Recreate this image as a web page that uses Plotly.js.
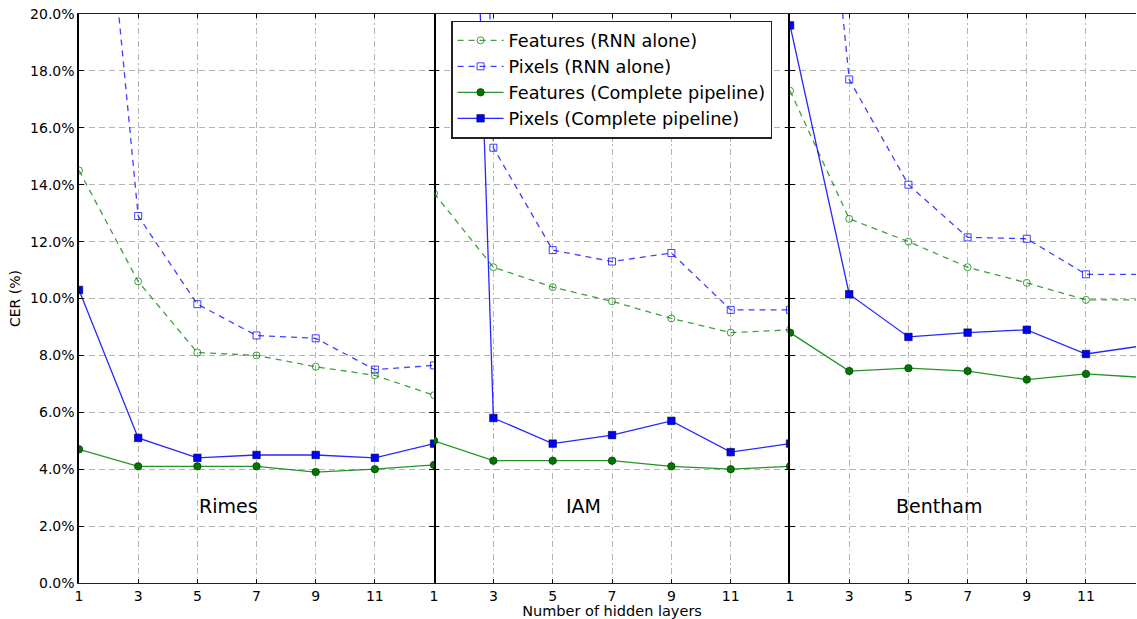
<!DOCTYPE html>
<html>
<head>
<meta charset="utf-8">
<script src="https://cdn.plot.ly/plotly-3.0.1.min.js"></script>
<style>html,body{margin:0;padding:0;background:#fff;}#chart{width:1137px;height:619px;}</style>
</head>
<body>
<div id="chart"></div>
<script>
// ---- data ----
const layers = [1, 3, 5, 7, 9, 11, 13];
const panelNames = ['Rimes', 'IAM', 'Bentham'];
const seriesNames = ['Features (RNN alone)', 'Pixels (RNN alone)', 'Features (Complete pipeline)', 'Pixels (Complete pipeline)'];
const xTickVals = [1, 3, 5, 7, 9, 11];
const xTickText = ['1', '3', '5', '7', '9', '11'];
const yTickVals = [0, 2, 4, 6, 8, 10, 12, 14, 16, 18, 20];
const yTickText = ['0.0%', '2.0%', '4.0%', '6.0%', '8.0%', '10.0%', '12.0%', '14.0%', '16.0%', '18.0%', '20.0%'];

const rimesFeatRnn  = [14.5, 10.6, 8.1, 8.0, 7.6, 7.3, 6.6];
const rimesPixRnn   = [34.5, 12.9, 9.8, 8.7, 8.6, 7.5, 7.65];
const rimesFeatFull = [4.7, 4.1, 4.1, 4.1, 3.9, 4.0, 4.15];
const rimesPixFull  = [10.3, 5.1, 4.4, 4.5, 4.5, 4.4, 4.9];

const iamFeatRnn  = [13.7, 11.1, 10.4, 9.9, 9.3, 8.8, 8.9];
const iamPixRnn   = [95, 15.3, 11.7, 11.3, 11.6, 9.6, 9.6];
const iamFeatFull = [5.0, 4.3, 4.3, 4.3, 4.1, 4.0, 4.1];
const iamPixFull  = [70, 5.8, 4.9, 5.2, 5.7, 4.6, 4.9];

const benthamFeatRnn  = [17.3, 12.8, 12.0, 11.1, 10.55, 9.95, 9.95];
const benthamPixRnn   = [38.5, 17.7, 14.0, 12.15, 12.1, 10.85, 10.85];
const benthamFeatFull = [8.8, 7.45, 7.55, 7.45, 7.15, 7.35, 7.22];
const benthamPixFull  = [19.6, 10.15, 8.65, 8.8, 8.9, 8.05, 8.35];

const panelData = [
  [rimesFeatRnn, rimesPixRnn, rimesFeatFull, rimesPixFull],
  [iamFeatRnn, iamPixRnn, iamFeatFull, iamPixFull],
  [benthamFeatRnn, benthamPixRnn, benthamFeatFull, benthamPixFull]
];

// ---- styles ----
const styles = [
  {line: {color: 'rgba(0,128,0,0.75)', width: 1.3, dash: '6px,5px'},
   marker: {symbol: 'circle-open', size: 7, color: 'rgba(0,128,0,0.75)', line: {width: 1}}},
  {line: {color: 'rgba(0,0,255,0.75)', width: 1.3, dash: '6px,5px'},
   marker: {symbol: 'square-open', size: 7, color: 'rgba(0,0,255,0.75)', line: {width: 1}}},
  {line: {color: 'rgba(0,128,0,0.85)', width: 1.3},
   marker: {symbol: 'circle', size: 7.5, color: '#007800', line: {width: 0.6, color: '#003000'}}},
  {line: {color: 'rgba(0,0,255,0.85)', width: 1.3},
   marker: {symbol: 'square', size: 7.5, color: '#0000ff', line: {width: 0.6, color: '#000040'}}}
];

const xNames = ['x', 'x2', 'x3'];
const yNames = ['y', 'y2', 'y3'];
const traces = [];
for (let s = 0; s < 4; s++) {
  for (let p = 0; p < 3; p++) {
    traces.push({
      type: 'scatter', mode: 'lines+markers',
      x: layers, y: panelData[p][s],
      xaxis: xNames[p], yaxis: yNames[p],
      name: seriesNames[s], legendgroup: 'g' + s,
      showlegend: p === 0,
      line: styles[s].line, marker: styles[s].marker,
      cliponaxis: true, hoverinfo: 'skip'
    });
  }
}

const fontFam = 'DejaVu Sans, Liberation Sans, sans-serif';
const domains = [[0, 0.3359], [0.3359, 0.6727], [0.6727, 1]];
const xRanges = [[1, 13], [1, 13], [1, 12.69]];

function xAxis(i) {
  return {
    domain: domains[i], range: xRanges[i], anchor: yNames[i],
    tickmode: 'array', tickvals: xTickVals, ticktext: xTickText,
    ticks: 'inside', ticklen: 4, tickcolor: '#000', tickwidth: 1,
    showline: true, linecolor: '#222', linewidth: 1.3, mirror: 'ticks',
    showgrid: true, gridcolor: '#b4b4b4', gridwidth: 1, griddash: '6px,3px,1.5px,3px',
    zeroline: false, tickfont: {size: 14, color: '#000', family: fontFam}
  };
}
function yAxis(i) {
  return {
    domain: [0, 1], range: [0, 20], anchor: xNames[i],
    tickmode: 'array', tickvals: yTickVals, ticktext: yTickText,
    showticklabels: i === 0,
    ticks: 'inside', ticklen: 5, tickcolor: '#000', tickwidth: 1,
    showline: i !== 1, linecolor: '#000', linewidth: 1.6,
    mirror: i < 2 ? 'ticks' : false,
    showgrid: true, gridcolor: '#b4b4b4', gridwidth: 1, griddash: '6px,4px',
    zeroline: false, tickfont: {size: 14, color: '#000', family: fontFam}
  };
}

const layout = {
  width: 1137, height: 619,
  margin: {l: 79, r: 1, t: 14, b: 36},
  paper_bgcolor: '#fff', plot_bgcolor: '#fff',
  font: {family: fontFam, color: '#000'},
  xaxis: xAxis(0),
  xaxis2: Object.assign(xAxis(1), {title: {text: 'Number of hidden layers', font: {size: 14.5}, standoff: 2}}),
  xaxis3: xAxis(2),
  yaxis: Object.assign(yAxis(0), {title: {text: 'CER (%)', font: {size: 14}, standoff: 6}}),
  yaxis2: yAxis(1), yaxis3: yAxis(2),
  showlegend: true,
  legend: {
    x: 0.352, y: 0.988, xanchor: 'left', yanchor: 'top',
    bgcolor: '#fff', bordercolor: '#222', borderwidth: 1.5,
    font: {size: 17.7, family: fontFam, color: '#000'},
    itemwidth: 46,
    traceorder: 'normal'
  },
  annotations: panelNames.map((n, i) => ({
    text: n, xref: xNames[i], yref: yNames[i], x: 6.05, y: 2.7,
    showarrow: false, font: {size: 19, family: fontFam, color: '#000'},
    xanchor: 'center', yanchor: 'middle'
  }))
};

Plotly.newPlot('chart', traces, layout, {displayModeBar: false, staticPlot: true});
</script>
</body>
</html>
